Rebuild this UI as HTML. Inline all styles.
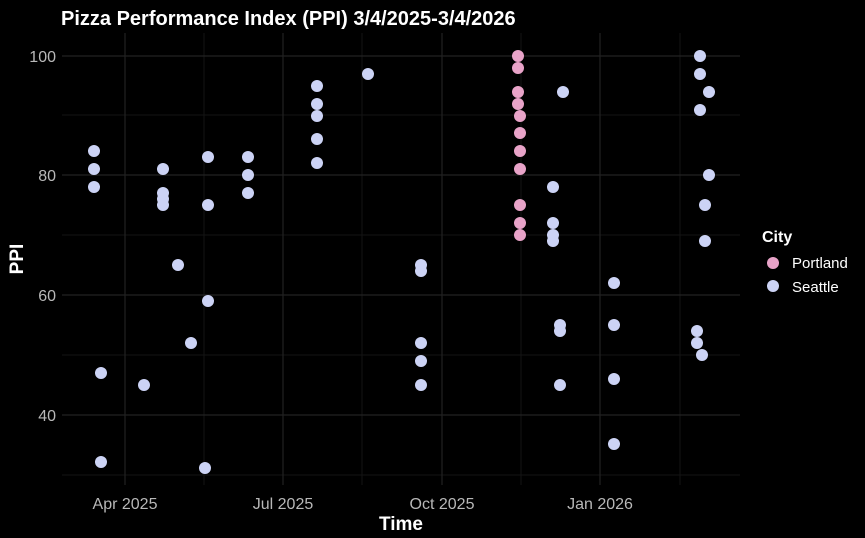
<!DOCTYPE html>
<html><head><style>
html,body{margin:0;padding:0;background:#000;}
svg{display:block;font-family:"Liberation Sans",sans-serif;}
</style></head><body>
<svg width="865" height="538" viewBox="0 0 865 538">
<rect width="865" height="538" fill="#000"/>
<g stroke="#141414" stroke-width="1">
<line x1="62" x2="740" y1="475" y2="475"/><line x1="62" x2="740" y1="355" y2="355"/><line x1="62" x2="740" y1="235" y2="235"/><line x1="62" x2="740" y1="115" y2="115"/>
<line x1="204" x2="204" y1="33" y2="485"/><line x1="362" x2="362" y1="33" y2="485"/><line x1="521" x2="521" y1="33" y2="485"/><line x1="680" x2="680" y1="33" y2="485"/>
</g>
<g stroke="#222" stroke-width="1.2">
<line x1="62" x2="740" y1="415" y2="415"/><line x1="62" x2="740" y1="295" y2="295"/><line x1="62" x2="740" y1="175" y2="175"/><line x1="62" x2="740" y1="56" y2="56"/>
<line x1="125" x2="125" y1="33" y2="485"/><line x1="283" x2="283" y1="33" y2="485"/><line x1="442" x2="442" y1="33" y2="485"/><line x1="600" x2="600" y1="33" y2="485"/>
</g>
<g fill="#b8b8b8" font-size="16" text-anchor="end">
<text x="56" y="421">40</text><text x="56" y="301">60</text><text x="56" y="181">80</text><text x="56" y="62">100</text>
</g>
<g fill="#b8b8b8" font-size="16" text-anchor="middle">
<text x="125" y="509">Apr 2025</text><text x="283" y="509">Jul 2025</text><text x="442" y="509">Oct 2025</text><text x="600" y="509">Jan 2026</text>
</g>
<text x="61" y="25" fill="#fff" font-size="20" font-weight="bold">Pizza Performance Index (PPI) 3/4/2025-3/4/2026</text>
<text x="401" y="530" fill="#fff" font-size="19" font-weight="bold" text-anchor="middle">Time</text>
<text transform="translate(23,259) rotate(-90)" fill="#fff" font-size="19" font-weight="bold" text-anchor="middle">PPI</text>
<g fill="#ccd3f5">
<circle cx="94" cy="151" r="6"/><circle cx="94" cy="169" r="6"/><circle cx="94" cy="187" r="6"/><circle cx="101" cy="373" r="6"/><circle cx="101" cy="462" r="6"/><circle cx="144" cy="385" r="6"/><circle cx="163" cy="169" r="6"/><circle cx="163" cy="193" r="6"/><circle cx="163" cy="199" r="6"/><circle cx="163" cy="205" r="6"/><circle cx="178" cy="265" r="6"/><circle cx="191" cy="343" r="6"/><circle cx="205" cy="468" r="6"/><circle cx="208" cy="157" r="6"/><circle cx="208" cy="205" r="6"/><circle cx="208" cy="301" r="6"/><circle cx="248" cy="157" r="6"/><circle cx="248" cy="175" r="6"/><circle cx="248" cy="193" r="6"/><circle cx="317" cy="86" r="6"/><circle cx="317" cy="104" r="6"/><circle cx="317" cy="116" r="6"/><circle cx="317" cy="139" r="6"/><circle cx="317" cy="163" r="6"/><circle cx="368" cy="74" r="6"/><circle cx="421" cy="265" r="6"/><circle cx="421" cy="271" r="6"/><circle cx="421" cy="343" r="6"/><circle cx="421" cy="361" r="6"/><circle cx="421" cy="385" r="6"/><circle cx="553" cy="187" r="6"/><circle cx="553" cy="223" r="6"/><circle cx="553" cy="235" r="6"/><circle cx="553" cy="241" r="6"/><circle cx="560" cy="325" r="6"/><circle cx="560" cy="331" r="6"/><circle cx="560" cy="385" r="6"/><circle cx="563" cy="92" r="6"/><circle cx="614" cy="283" r="6"/><circle cx="614" cy="325" r="6"/><circle cx="614" cy="379" r="6"/><circle cx="614" cy="444" r="6"/><circle cx="700" cy="56" r="6"/><circle cx="700" cy="74" r="6"/><circle cx="709" cy="92" r="6"/><circle cx="700" cy="110" r="6"/><circle cx="709" cy="175" r="6"/><circle cx="705" cy="205" r="6"/><circle cx="705" cy="241" r="6"/><circle cx="697" cy="331" r="6"/><circle cx="697" cy="343" r="6"/><circle cx="702" cy="355" r="6"/>
</g>
<g fill="#e8a3c8">
<circle cx="518" cy="56" r="6"/><circle cx="518" cy="68" r="6"/><circle cx="518" cy="92" r="6"/><circle cx="518" cy="104" r="6"/><circle cx="520" cy="116" r="6"/><circle cx="520" cy="133" r="6"/><circle cx="520" cy="151" r="6"/><circle cx="520" cy="169" r="6"/><circle cx="520" cy="205" r="6"/><circle cx="520" cy="223" r="6"/><circle cx="520" cy="235" r="6"/>
</g>
<text x="762" y="242" fill="#fff" font-size="16" font-weight="bold">City</text>
<circle cx="773" cy="263" r="6" fill="#e8a3c8"/><circle cx="773" cy="286" r="6" fill="#ccd3f5"/>
<text x="792" y="268" fill="#fff" font-size="15">Portland</text>
<text x="792" y="292" fill="#fff" font-size="15">Seattle</text>
</svg>
</body></html>
